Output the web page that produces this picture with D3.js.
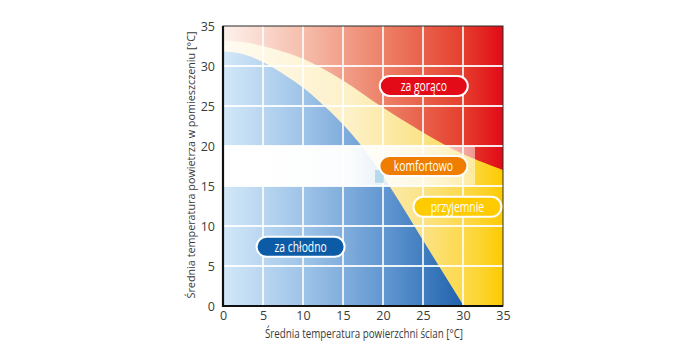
<!DOCTYPE html>
<html>
<head>
<meta charset="utf-8">
<script src="https://cdn.jsdelivr.net/npm/d3@7"></script>
<style>
  body { margin: 0; background: #fff; }
  svg { display: block; }
  .tick text { font-family: "Open Sans", sans-serif; font-size: 12.5px; fill: #3a3a3a; }
  .title { font-family: "Open Sans", sans-serif; font-size: 12px; fill: #3a3a3a; }
  .pill text { font-family: "Open Sans", sans-serif; font-size: 14px; fill: #fff; }
</style>
</head>
<body>
<svg id="chart" width="700" height="350"></svg>
<script>
// axis ticks
var xTicks = [0, 5, 10, 15, 20, 25, 30, 35];
var yTicks = [0, 5, 10, 15, 20, 25, 30, 35];

// upper edge of the "too cold" zone (wall temp, air temp)
var coldEdge = [[0, 31.8], [2, 31.6], [5, 30.5], [8, 28.7], [10, 27.3], [12, 25.6],
                [15, 22.7], [17, 20.4], [20.8, 15], [25.5, 7.4], [30.1, 0]];

// lower edge of the "too hot" zone
var hotEdge = [[0, 33.2], [2.5, 33.0], [5, 32.5], [10, 30.9], [15, 28.2], [20, 24.8],
               [25, 21.7], [30, 19.0], [35, 17.0]];

// comfort band (air temp range) and where it ends on the wall axis
var comfortBand = [15, 20];
var comfortEnd = 31.5;

// zone labels
var labelNames = ["za gorąco", "komfortowo", "przyjemnie", "za chłodno"];
var labelX = [25.1, 25.05, 29.3, 9.7];
var labelY = [27.5, 17.5, 12.4, 7.4];
var labelColors = ["#e30b17", "#ee7d00", "#fdcb00", "#0b5ba6"];

var svg = d3.select("#chart");
var plotLeft = 223, plotRight = 503, plotTop = 26, plotBottom = 306;

var x = d3.scaleLinear().domain([0, 35]).range([plotLeft, plotRight]);
var y = d3.scaleLinear().domain([0, 35]).range([plotBottom, plotTop]);

var defs = svg.append("defs");

function hGradient(id, stops) {
    var g = defs.append("linearGradient")
        .attr("id", id)
        .attr("gradientUnits", "userSpaceOnUse")
        .attr("x1", x(0)).attr("x2", x(35))
        .attr("y1", 0).attr("y2", 0);
    stops.forEach(function(s) {
        g.append("stop")
            .attr("offset", s[0])
            .attr("stop-color", s[1])
            .attr("stop-opacity", s[2] === undefined ? 1 : s[2]);
    });
}

hGradient("warm", [[0, "#fffbf2"], [0.45, "#fdf1c8"], [0.7, "#fbe48c"], [0.9, "#fdd63a"], [1, "#fdcb00"]]);
hGradient("hot", [[0, "#fdf2ed"], [0.3, "#f5bba8"], [0.6, "#ec7b62"], [0.85, "#e5412f"], [1, "#e10a16"]]);
hGradient("cold", [[0, "#d3e8f8"], [0.3, "#9cc2e7"], [0.6, "#5d93cf"], [0.86, "#1f62ac"], [1, "#1a5aa5"]]);
hGradient("band", [[0, "#ffffff", 1], [0.45, "#ffffff", 0.97], [0.75, "#ffffff", 0.7], [0.9, "#ffffff", 0.5]]);

// base: the pleasant (yellow) zone fills the whole plot
svg.append("rect")
    .attr("x", x(0)).attr("y", y(35))
    .attr("width", x(35) - x(0)).attr("height", y(0) - y(35))
    .attr("fill", "url(#warm)");

var hotArea = d3.area()
    .x(function(d) { return x(d[0]); })
    .y0(y(35))
    .y1(function(d) { return y(d[1]); })
    .curve(d3.curveCatmullRom.alpha(0.5));

svg.append("path").datum(hotEdge)
    .attr("d", hotArea)
    .attr("fill", "url(#hot)");

var coldArea = d3.area()
    .x(function(d) { return x(d[0]); })
    .y0(y(0))
    .y1(function(d) { return y(d[1]); })
    .curve(d3.curveMonotoneX);

svg.append("path").datum(coldEdge)
    .attr("d", coldArea)
    .attr("fill", "url(#cold)");

// grid
var grid = svg.append("g").attr("stroke", "#fff").attr("stroke-width", 1.8).attr("stroke-opacity", 0.9);
grid.selectAll(".gx").data(xTicks.slice(1, -1)).enter().append("line")
    .attr("x1", function(d) { return x(d); }).attr("x2", function(d) { return x(d); })
    .attr("y1", y(0)).attr("y2", y(35));
grid.selectAll(".gy").data(yTicks.slice(1, -1)).enter().append("line")
    .attr("y1", function(d) { return y(d); }).attr("y2", function(d) { return y(d); })
    .attr("x1", x(0)).attr("x2", x(35));

// comfort band
svg.append("rect")
    .attr("x", x(0)).attr("y", y(comfortBand[1]))
    .attr("width", x(comfortEnd) - x(0))
    .attr("height", y(comfortBand[0]) - y(comfortBand[1]))
    .attr("fill", "url(#band)");

svg.append("rect")
    .attr("x", x(19)).attr("y", y(17))
    .attr("width", x(20.1) - x(19)).attr("height", y(15.4) - y(17))
    .attr("fill", "#a9d3e6").attr("opacity", 0.8);

// frame
svg.append("rect")
    .attr("x", x(0)).attr("y", y(35))
    .attr("width", x(35) - x(0)).attr("height", y(0) - y(35))
    .attr("fill", "none").attr("stroke", "#2a2a2a").attr("stroke-width", 1);

svg.append("path")
    .attr("d", "M" + x(0) + "," + y(35) + "V" + y(0) + "H" + x(35))
    .attr("fill", "none").attr("stroke", "#111").attr("stroke-width", 2.2);

// axes
var xAxis = svg.append("g")
    .attr("transform", "translate(0," + (plotBottom + 2) + ")")
    .call(d3.axisBottom(x).tickValues(xTicks).tickSize(0).tickPadding(3));
xAxis.select(".domain").remove();

var yAxis = svg.append("g")
    .attr("transform", "translate(" + (plotLeft - 4) + ",0)")
    .call(d3.axisLeft(y).tickValues(yTicks).tickSize(0).tickPadding(4));
yAxis.select(".domain").remove();

svg.append("text").attr("class", "title")
    .attr("x", 265).attr("y", 338)
    .attr("textLength", 198).attr("lengthAdjust", "spacingAndGlyphs")
    .text("Średnia temperatura powierzchni ścian [°C]");

svg.append("text").attr("class", "title")
    .attr("transform", "translate(195," + ((plotTop + plotBottom) / 2 - 1) + ") rotate(-90)")
    .attr("text-anchor", "middle")
    .style("font-size", "10.8px")
    .text("Średnia temperatura powietrza w pomieszczeniu [°C]");

// zone labels
var pillW = x(11) - x(0), pillH = y(0) - y(2.5);
var pills = svg.selectAll(".pill").data(labelNames).enter().append("g")
    .attr("class", "pill")
    .attr("transform", function(d, i) { return "translate(" + x(labelX[i]) + "," + y(labelY[i]) + ")"; });

pills.append("rect")
    .attr("x", -pillW / 2).attr("y", -pillH / 2)
    .attr("width", pillW).attr("height", pillH)
    .attr("rx", pillH / 2)
    .attr("fill", function(d, i) { return labelColors[i]; })
    .attr("stroke", "#fff").attr("stroke-width", 2);

pills.append("text")
    .attr("text-anchor", "middle")
    .attr("dy", "0.35em")
    .attr("transform", "scale(0.74,1)")
    .text(function(d) { return d; });
</script>
</body>
</html>
